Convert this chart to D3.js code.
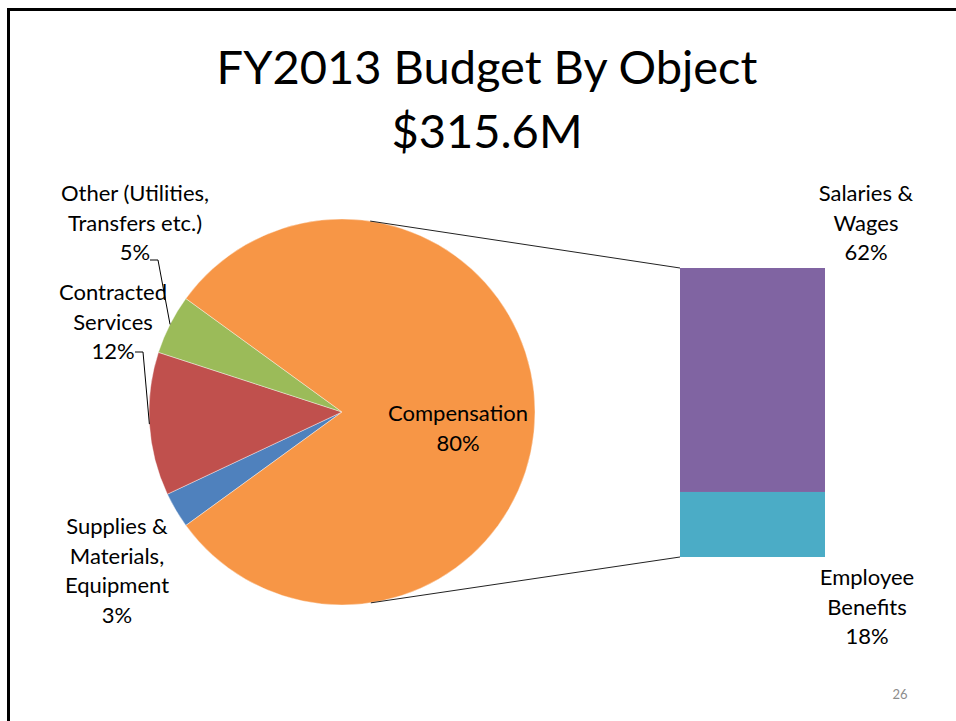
<!DOCTYPE html>
<html>
<head>
<meta charset="utf-8">
<script src="https://cdn.jsdelivr.net/npm/d3@7"></script>
<style>
  html, body { margin: 0; padding: 0; background: #fff; }
  svg { display: block; }
  text { font-family: Lato, "Open Sans", sans-serif; fill: #000; }
</style>
</head>
<body>
<svg id="chart" width="956" height="721"></svg>
<script>
// Budget split by object (percent of $315.6M)
const pieCategories = ["Supplies & Materials, Equipment", "Contracted Services", "Other (Utilities, Transfers etc.)", "Compensation"];
const pieValues = [3, 12, 5, 80];
const pieLabelLines = [
  ["Supplies &", "Materials,", "Equipment", "3%"],
  ["Contracted", "Services", "12%"],
  ["Other (Utilities,", "Transfers etc.)", "5%"],
  ["Compensation", "80%"]
];
const pieColors = ["#4F81BD", "#C0504D", "#9BBB59", "#F79646"];

// Compensation broken out in the stacked bar
const barCategories = ["Salaries & Wages", "Employee Benefits"];
const barValues = [62, 18];
const barLabelLines = [
  ["Salaries &", "Wages", "62%"],
  ["Employee", "Benefits", "18%"]
];
const barColors = ["#8064A2", "#4BACC6"];

const titleLines = ["FY2013 Budget By Object", "$315.6M"];

const svg = d3.select("#chart");
const deg = Math.PI / 180;

// slide frame
svg.append("line").attr("x1", 7).attr("x2", 956).attr("y1", 9.5).attr("y2", 9.5)
  .attr("stroke", "#000").attr("stroke-width", 3);
svg.append("line").attr("x1", 8.5).attr("x2", 8.5).attr("y1", 8).attr("y2", 721)
  .attr("stroke", "#000").attr("stroke-width", 3);

// title
svg.selectAll("text.title").data(titleLines).join("text")
  .attr("class", "title")
  .attr("x", 487).attr("y", (d, i) => 84 + i * 64)
  .attr("text-anchor", "middle")
  .attr("font-size", 47)
  .text(d => d);

// pie
const cx = 342, cy = 412, r = 193;
const pie = d3.pie().sort(null).value(d => d)
  .startAngle(234 * deg).endAngle(594 * deg);
const arcs = pie(pieValues);
const arc = d3.arc().innerRadius(0).outerRadius(r);

const g = svg.append("g").attr("transform", `translate(${cx},${cy})`);
g.selectAll("path").data(arcs).join("path")
  .attr("d", arc)
  .attr("fill", (d, i) => pieColors[i])
  .attr("stroke", "#fff").attr("stroke-width", 0.4);

// stacked bar for compensation
const barX = 680, barW = 145;
const y = d3.scaleLinear().domain([0, d3.sum(barValues)]).range([268, 557]);
let acc = 0;
const stack = barValues.map(v => { const s = { y0: acc, y1: acc + v }; acc += v; return s; });
svg.selectAll("rect.bar").data(stack).join("rect")
  .attr("class", "bar")
  .attr("x", barX).attr("width", barW)
  .attr("y", d => y(d.y0)).attr("height", d => y(d.y1) - y(d.y0))
  .attr("fill", (d, i) => barColors[i]);

// connector lines between pie and bar
const onCircle = a => [cx + r * Math.sin(a * deg), cy - r * Math.cos(a * deg)];
const pTop = onCircle(8.4), pBot = onCircle(171.4);
const connectors = [[pTop, [barX, y(0)]], [pBot, [barX, y(d3.sum(barValues))]]];
svg.selectAll("line.conn").data(connectors).join("line")
  .attr("class", "conn")
  .attr("x1", d => d[0][0]).attr("y1", d => d[0][1])
  .attr("x2", d => d[1][0]).attr("y2", d => d[1][1])
  .attr("stroke", "#222").attr("stroke-width", 1);

// multi-line labels
const fs = 22, lh = 29.5;
function label(lines, x, yFirst) {
  const t = svg.append("text").attr("text-anchor", "middle").attr("font-size", fs);
  lines.forEach((s, i) => t.append("tspan").attr("x", x).attr("y", yFirst + i * lh).text(s));
}
const pieLabelPos = [[117, 534], [113, 300], [135, 201], [458, 421]];
pieLabelLines.forEach((lines, i) => label(lines, pieLabelPos[i][0], pieLabelPos[i][1]));
const barLabelPos = [[866, 201], [867, 585]];
barLabelLines.forEach((lines, i) => label(lines, barLabelPos[i][0], barLabelPos[i][1]));

// leader lines for the small slices with outside labels
const mid = d => (d.startAngle + d.endAngle) / 2 / deg;
const leaders = [
  { from: [150, 260], elbow: [158, 260], to: onCircle(mid(arcs[2])) },
  { from: [135, 352], elbow: [143, 352], to: onCircle(mid(arcs[1])) }
];
svg.selectAll("polyline.leader").data(leaders).join("polyline")
  .attr("class", "leader")
  .attr("points", d => [d.from, d.elbow, d.to].map(p => p.join(",")).join(" "))
  .attr("fill", "none").attr("stroke", "#000").attr("stroke-width", 1);

// slide number
svg.append("text").attr("x", 900).attr("y", 699).attr("text-anchor", "middle")
  .attr("font-size", 13).style("fill", "#8c8c8c").text("26");
</script>
</body>
</html>
